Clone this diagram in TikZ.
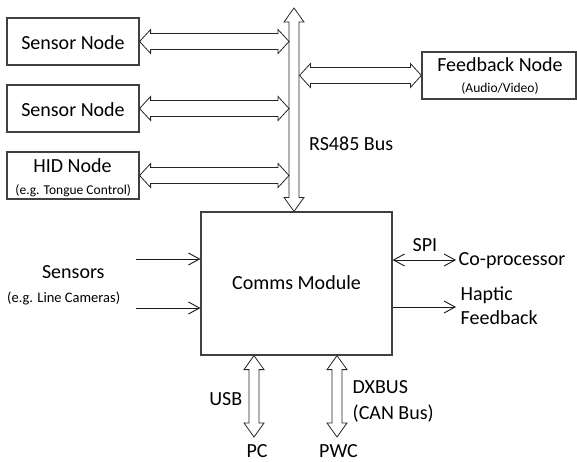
\documentclass[tikz,border=0pt]{standalone}
\usepackage{fontspec}
\setmainfont{Carlito}
\usetikzlibrary{calc,arrows.meta}
\newcommand\ahl{11}\newcommand\ahh{12}\newcommand\ahs{8}
\newcommand\avl{14}\newcommand\avh{10}\newcommand\avs{5}
\newcommand{\HDbl}[2]{\draw[hollow] (#1) -- ($(#1)+(\ahl,-\ahh)$) -- ($(#1)+(\ahl,-\ahs)$) -- ($(#2)+(-\ahl,-\ahs)$) -- ($(#2)+(-\ahl,-\ahh)$) -- (#2) -- ($(#2)+(-\ahl,\ahh)$) -- ($(#2)+(-\ahl,\ahs)$) -- ($(#1)+(\ahl,\ahs)$) -- ($(#1)+(\ahl,\ahh)$) -- cycle;}
\newcommand{\VDbl}[2]{\draw[hollow] (#1) -- ($(#1)+(\avh,\avl)$) -- ($(#1)+(\avs,\avl)$) -- ($(#2)+(\avs,-\avl)$) -- ($(#2)+(\avh,-\avl)$) -- (#2) -- ($(#2)+(-\avh,-\avl)$) -- ($(#2)+(-\avs,-\avl)$) -- ($(#1)+(-\avs,\avl)$) -- ($(#1)+(-\avh,\avl)$) -- cycle;}
\begin{document}
\begin{tikzpicture}[x=1pt,y=-1pt,
  box/.style={draw=black!75,line width=1.2pt,fill=white,inner sep=0pt},
  big/.style={font=\fontsize{20}{24}\selectfont,inner sep=0pt},
  sml/.style={font=\fontsize{13.5}{16}\selectfont,inner sep=0pt},
  hollow/.style={draw=black!85,line width=0.8pt,fill=white,line join=miter},
  thin/.style={draw=black!90,line width=0.9pt},
  tip/.style={-{Straight Barb[length=11pt,width=12pt]}},
  tips/.style={{Straight Barb[length=11pt,width=12pt]}-{Straight Barb[length=11pt,width=12pt]}}]
\useasboundingbox (0,0) rectangle (577,461);
% boxes
\node[box,big,minimum width=132pt,minimum height=47pt,text height=15pt,text depth=0pt] (s1) at (73,41.5) {Sensor Node};
\node[box,big,minimum width=132pt,minimum height=47pt,text height=15pt,text depth=0pt] (s2) at (73,108.5) {Sensor Node};
\node[box,minimum width=132pt,minimum height=47pt] (hid) at (73,175.5) {};
\node[big,anchor=base] (hidt) at (72.5,172) {HID Node};
\node[sml,anchor=base] (hids) at (73.3,194.5) {(e.g. Tongue Control)};
\node[box,minimum width=154pt,minimum height=47pt] (fb) at (499,75.5) {};
\node[big,anchor=base] (fbt) at (500,71) {Feedback Node};
\node[sml,anchor=base] (fbs) at (500,92.5) {(Audio/Video)};
\node[box,big,minimum width=191pt,minimum height=143pt,text height=11pt,text depth=0pt] (comms) at (296.5,283.5) {Comms Module};
% bus
\coordinate (bustop) at (294,8);
\coordinate (busL) at (289,0);
\coordinate (busR) at (299.5,0);
\coordinate (busbot) at (bustop |- comms.north);
\VDbl{bustop}{busbot}
\node[big,anchor=base west] (rs) at (309,150) {RS485 Bus};
\HDbl{s1.east}{s1.east -| busL}
\HDbl{s2.east}{s2.east -| busL}
\HDbl{hid.east}{hid.east -| busL}
\HDbl{fb.west -| busR}{fb.west}
% sensors
\node[big,anchor=base] (sens) at (73.3,278) {Sensors};
\node[font=\fontsize{14.5}{16}\selectfont,inner sep=0pt,anchor=base] (senss) at (63.7,302.5) {(e.g. Line Cameras)};
\coordinate (sin1) at (136,259);
\coordinate (sin2) at (136,308);
\draw[thin,tip] (sin1) -- (sin1 -| comms.west);
\draw[thin,tip] (sin2) -- (sin2 -| comms.west);
% right side
\coordinate (spiend) at (456,260);
\coordinate (hapend) at (456,307);
\draw[thin,tips] (spiend -| comms.east) -- (spiend);
\draw[thin,tip] (hapend -| comms.east) -- (hapend);
\node[big,anchor=base] (spi) at (425,251) {SPI};
\node[big,anchor=base west] (copro) at (458.5,265) {Co-processor};
\node[big,anchor=base west] (hap) at (460.5,300) {Haptic};
\node[big,anchor=base west] (hapf) at (460.5,324) {Feedback};
% bottom
\coordinate (usbx) at (254,0);
\coordinate (usbbot) at (254,437);
\coordinate (dxx) at (337,0);
\coordinate (dxbot) at (337,437);
\VDbl{usbx |- comms.south}{usbbot}
\VDbl{dxx |- comms.south}{dxbot}
\node[big,anchor=base east] (usb) at (242.5,405) {USB};
\node[big,anchor=base west] (dx) at (352.5,393) {DXBUS};
\node[big,anchor=base west] (can) at (352.5,419) {(CAN Bus)};
\node[big,anchor=base] (pc) at (257,457) {PC};
\node[big,anchor=base] (pwc) at (338.5,457) {PWC};
\end{tikzpicture}
\end{document}
